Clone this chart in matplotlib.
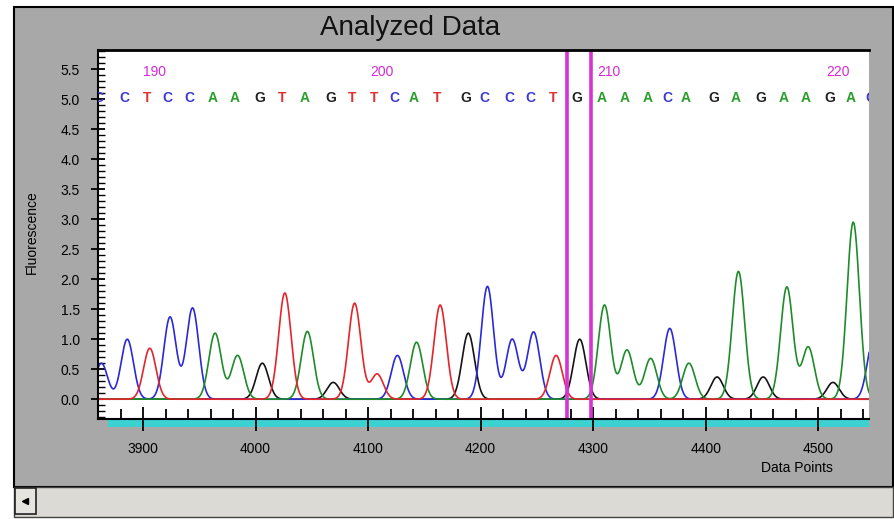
import numpy as np
import matplotlib
matplotlib.use("Agg")
import matplotlib.pyplot as plt
import matplotlib.transforms as mtransforms
from matplotlib.patches import Rectangle
from matplotlib.lines import Line2D
from matplotlib.ticker import MultipleLocator

matplotlib.rc('font', family='Liberation Sans', size=10)

W, H = 895, 519

# called peaks: position (data points), base, peak height
peak_pos = [3863, 3886, 3906, 3924, 3944, 3964, 3984, 4006, 4026, 4046,
            4069, 4088, 4108, 4126, 4143, 4164, 4189, 4206, 4228, 4247,
            4267, 4288, 4310, 4330, 4351, 4368, 4385, 4410, 4429, 4451,
            4472, 4491, 4513, 4531, 4549]
bases = "CCTCCAAGTAGTTCATGCCCTGAAACAGAGAAGAC"
peak_height = [0.60, 1.00, 0.85, 1.37, 1.52, 1.10, 0.73, 0.60, 1.77, 1.13,
               0.28, 1.60, 0.42, 0.73, 0.95, 1.57, 1.10, 1.88, 1.00, 1.12,
               0.73, 1.00, 1.57, 0.82, 0.68, 1.18, 0.60, 0.37, 2.13, 0.37,
               1.87, 0.87, 0.28, 2.95, 1.00]
peak_width = 5.5
first_base = 188
cursor_pos = [4277, 4298]

trace_col = {'A': '#1e8c2a', 'C': '#2a2ad6', 'G': '#141414', 'T': '#e3262b'}
letter_col = {'A': '#2a9e2a', 'C': '#3b3bd0', 'G': '#222222', 'T': '#e03030'}


def px(x, y):
    return x / W, 1 - y / H


fig = plt.figure(figsize=(W / 100, H / 100), dpi=100)
fig.patch.set_facecolor('white')

# window chrome
x0, y0 = px(14, 487)
fig.add_artist(Rectangle((x0, y0), 879 / W, 480 / H, transform=fig.transFigure,
                         fc='#a8a8a8', ec='black', lw=1.5, zorder=-3))
x0, y0 = px(14, 517)
fig.add_artist(Rectangle((x0, y0), 879 / W, 30 / H, transform=fig.transFigure,
                         fc='#dcdad4', ec='#444444', lw=1, zorder=-3))
x0, y0 = px(15, 514)
fig.add_artist(Rectangle((x0, y0), 21 / W, 26 / H, transform=fig.transFigure,
                         fc='#e6e4df', ec='#222222', lw=1.2, zorder=-2))
bx, by = px(25.5, 501)
fig.add_artist(Line2D([bx], [by], marker='<', color='black', ms=5,
                      transform=fig.transFigure, zorder=-1))
x0, y0 = px(108, 427)
fig.add_artist(Rectangle((x0, y0), 761 / W, 7 / H, transform=fig.transFigure,
                         fc='#3cd2d2', ec='none', zorder=-2))

l, b = px(98, 419)
ax = fig.add_axes([l, b, (869 - 98) / W, (419 - 50) / H])
ax.set_facecolor('white')

x = np.linspace(3850, 4560, 3000)
for base in ['G', 'C', 'A', 'T']:
    y = np.zeros_like(x)
    for p, h, bb in zip(peak_pos, peak_height, bases):
        if bb == base:
            y += h * np.exp(-(x - p) ** 2 / (2 * peak_width ** 2))
    ax.plot(x, y, color=trace_col[base], lw=1.2)

for c in cursor_pos:
    ax.axvline(c, color='#d633d6', lw=2.6)

off_l = mtransforms.offset_copy(ax.transData, fig=fig, x=-2, y=0, units='points')
off_n = mtransforms.offset_copy(ax.transData, fig=fig, x=-5, y=0, units='points')
for i, (p, bb) in enumerate(zip(peak_pos, bases)):
    ax.text(p, 5.02, bb, transform=off_l, ha='center', va='center',
            color=letter_col[bb], fontweight='bold', fontsize=10, clip_on=True)
    n = first_base + i
    if n % 10 == 0:
        ax.text(p, 5.45, str(n), transform=off_n, ha='left', va='center',
                color='#d62ad6', fontsize=10, clip_on=True)

ax.set_xlim(3860, 4545)
ax.set_ylim(-0.33, 5.82)
ax.xaxis.set_major_locator(MultipleLocator(100))
ax.xaxis.set_minor_locator(MultipleLocator(20))
ax.yaxis.set_major_locator(MultipleLocator(0.5))
ax.yaxis.set_minor_locator(MultipleLocator(0.1))
ax.yaxis.set_major_formatter(matplotlib.ticker.FormatStrFormatter('%.1f'))
ax.tick_params(axis='x', which='major', direction='inout', length=17, width=1.3,
               pad=8, labelsize=10, colors='black')
ax.tick_params(axis='x', which='minor', direction='in', length=7, width=1.3)
ax.tick_params(axis='y', which='major', direction='inout', length=10, width=1.3,
               pad=8, labelsize=10, colors='black')
ax.tick_params(axis='y', which='minor', direction='in', length=5, width=1)

ax.spines['right'].set_visible(False)
ax.spines['top'].set_linewidth(2)
ax.spines['left'].set_linewidth(1.5)
ax.spines['bottom'].set_linewidth(1.5)

tx, ty = px(410, 28)
fig.text(tx, ty, 'Analyzed Data', ha='center', va='center', fontsize=20, color='#111111')
tx, ty = px(32, 232)
fig.text(tx, ty, 'Fluorescence', ha='center', va='center', rotation=90, fontsize=10)
tx, ty = px(797, 468)
fig.text(tx, ty, 'Data Points', ha='center', va='center', fontsize=10)

plt.savefig('out.png', dpi=100)
